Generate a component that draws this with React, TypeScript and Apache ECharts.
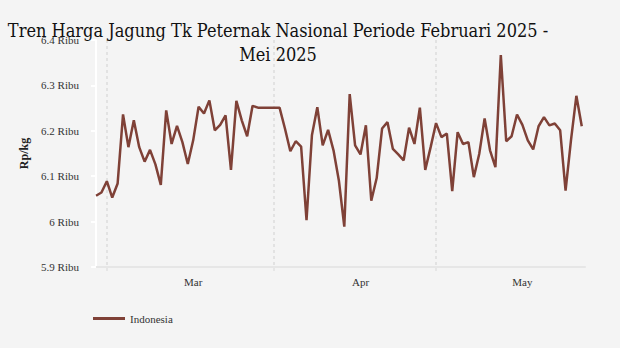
import React, { useEffect, useRef } from 'react';
import * as echarts from 'echarts';

const titleLines = ['Tren Harga Jagung Tk Peternak Nasional Periode Februari 2025 -', 'Mei 2025'];
const seriesName = 'Indonesia';
const yAxisName = 'Rp/kg';
// first observation: 27 Feb 2025, then one value per day through 28 May 2025
const startDate = [2025, 1, 27];
const prices = [
  6057, 6064, 6089, 6053, 6084, 6236, 6164, 6223, 6164, 6132,
  6158, 6126, 6081, 6245, 6171, 6211, 6175, 6127, 6179, 6253,
  6238, 6267, 6201, 6213, 6234, 6114, 6266, 6223, 6188, 6255,
  6251, 6251, 6251, 6251, 6251, 6205, 6155, 6177, 6165, 6003,
  6190, 6252, 6168, 6202, 6157, 6090, 5989, 6281, 6168, 6148,
  6212, 6046, 6096, 6205, 6219, 6160, 6148, 6135, 6207, 6171,
  6251, 6114, 6164, 6217, 6186, 6194, 6067, 6197, 6171, 6175,
  6098, 6149, 6227, 6157, 6120, 6367, 6177, 6188, 6236, 6213,
  6179, 6159, 6210, 6230, 6212, 6216, 6201, 6068, 6179, 6277,
  6210,
];
const yMin = 5900;
const yMax = 6400;
const yStep = 100;
const monthStarts = [[2025, 2, 1], [2025, 3, 1], [2025, 4, 1]];
const monthMids = [[2025, 2, 17], [2025, 3, 17], [2025, 4, 17]];
const monthLabels = ['Mar', 'Apr', 'May'];

const LINE_COLOR = '#7f4137';
const SERIF = 'Liberation Serif';

export default function App() {
  const ref = useRef<HTMLDivElement>(null);
  useEffect(() => {
    document.body.style.margin = '0';
    document.body.style.background = '#f4f4f4';
    const chart = echarts.init(ref.current!, null, { renderer: 'svg' });
    const dayMs = 86400000;
    const t0 = Date.UTC(startDate[0], startDate[1], startDate[2]);
    const dayOf = (y: number, m: number, d: number) => (Date.UTC(y, m, d) - t0) / dayMs;
    const data = prices.map((p, i) => [i, p]);
    const tickPos = monthStarts.map(([y, m, d]) => dayOf(y, m, d));
    const labelPos = monthMids.map(([y, m, d]) => dayOf(y, m, d));
    chart.setOption({
      animation: false,
      backgroundColor: '#f4f4f4',
      title: {
        text: titleLines.join('\n'),
        left: 278,
        top: 18,
        textAlign: 'center',
        padding: 0,
        textStyle: {
          fontFamily: '"DejaVu Serif Condensed", "DejaVu Serif"',
          fontSize: 18,
          fontWeight: 'normal',
          color: '#111',
          lineHeight: 24,
        },
      },
      legend: {
        left: 93,
        top: 313,
        padding: 0,
        icon: 'rect',
        itemWidth: 32,
        itemHeight: 3,
        itemGap: 10,
        textStyle: { fontFamily: SERIF, fontSize: 11, color: '#333' },
        data: [seriesName],
      },
      grid: { left: 92, right: 35, top: 40, bottom: 81 },
      xAxis: {
        type: 'value',
        min: -0.75,
        max: 90.6,
        axisLine: { show: true, lineStyle: { color: '#e6e6e6', width: 2 } },
        axisTick: { show: true, customValues: tickPos, length: 4, lineStyle: { color: '#e6e6e6', width: 2 } },
        splitLine: { show: true, lineStyle: { color: '#dcdcdc', type: [3, 3], width: 1.5 } },
        axisLabel: {
          customValues: labelPos,
          formatter: (v: number) => {
            let best = 0;
            labelPos.forEach((p, i) => { if (Math.abs(p - v) < Math.abs(labelPos[best] - v)) best = i; });
            return monthLabels[best];
          },
          color: '#333',
          fontFamily: SERIF,
          fontSize: 11,
          margin: 9,
        },
      },
      yAxis: {
        type: 'value',
        min: yMin,
        max: yMax,
        interval: yStep,
        name: yAxisName,
        nameLocation: 'middle',
        nameRotate: 90,
        nameGap: 62,
        nameTextStyle: { fontFamily: SERIF, fontWeight: 'bold', fontSize: 12, color: '#222' },
        axisLine: { show: true, lineStyle: { color: '#ffffff', width: 2 } },
        axisTick: { show: true, length: 5, lineStyle: { color: '#ffffff', width: 2 } },
        splitLine: { show: false },
        axisLabel: {
          formatter: (v: number) => `${v / 1000} Ribu`,
          margin: 13,
          color: '#333',
          fontFamily: SERIF,
          fontSize: 11,
        },
      },
      series: [
        {
          type: 'line',
          name: seriesName,
          data,
          showSymbol: false,
          symbol: 'none',
          lineStyle: { color: LINE_COLOR, width: 2.5 },
          itemStyle: { color: LINE_COLOR },
        },
      ],
    });
    return () => chart.dispose();
  }, []);
  return <div ref={ref} style={{ width: 620, height: 348 }} />;
}
